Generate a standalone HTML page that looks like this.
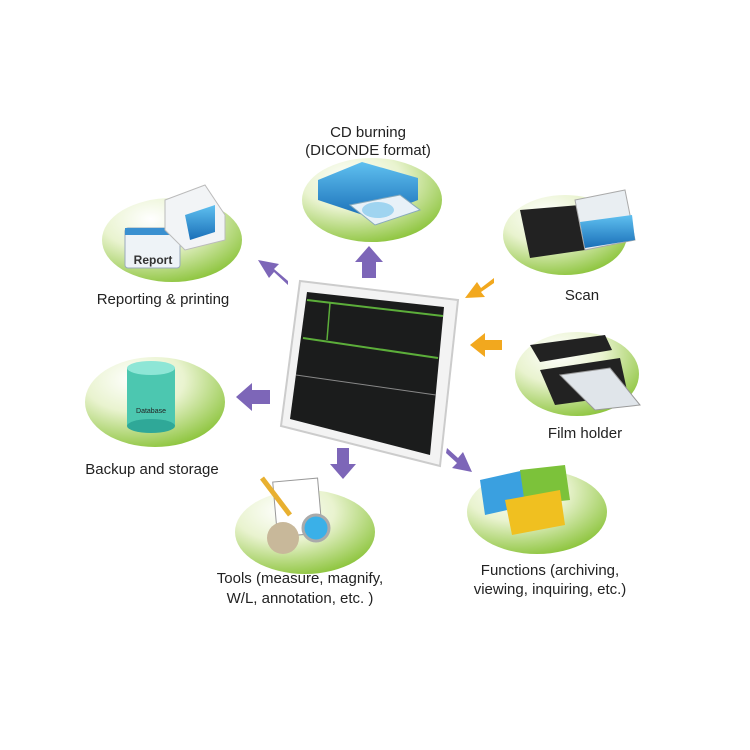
<!DOCTYPE html>
<html><head><style>
body{margin:0;background:#fff}
svg{display:block}
text{font-family:"Liberation Sans",sans-serif;font-size:15px;fill:#222;text-anchor:middle}
</style></head><body>
<svg width="750" height="750" viewBox="0 0 750 750">
<defs>
<radialGradient id="g" cx="0.35" cy="0.25" r="0.8">
<stop offset="0" stop-color="#ffffff"/><stop offset="0.45" stop-color="#e9f3cf"/><stop offset="1" stop-color="#8cc43c"/>
</radialGradient>
<linearGradient id="blue" x1="0" y1="0" x2="0" y2="1"><stop offset="0" stop-color="#5fc0f0"/><stop offset="1" stop-color="#1a6fb8"/></linearGradient>
</defs>
<ellipse cx="172" cy="240" rx="70" ry="42" fill="url(#g)"/>
<ellipse cx="372" cy="200" rx="70" ry="42" fill="url(#g)"/>
<ellipse cx="565" cy="235" rx="62" ry="40" fill="url(#g)"/>
<ellipse cx="577" cy="374" rx="62" ry="42" fill="url(#g)"/>
<ellipse cx="155" cy="402" rx="70" ry="45" fill="url(#g)"/>
<ellipse cx="305" cy="532" rx="70" ry="42" fill="url(#g)"/>
<ellipse cx="537" cy="512" rx="70" ry="42" fill="url(#g)"/>

<rect x="125" y="228" width="55" height="40" rx="3" fill="#eef3f7" stroke="#9ab" />
<rect x="125" y="228" width="55" height="7" fill="#3a90d0"/>
<text x="153" y="264" style="font-size:12px;font-weight:bold;fill:#333">Report</text>
<path d="M165 200 L205 185 L225 215 L225 240 L185 250 L165 230Z" fill="#f2f4f6" stroke="#bbb"/>
<path d="M185 215 L215 205 L215 232 L190 240Z" fill="url(#blue)"/>
<path d="M318 180 L362 162 L418 178 L418 200 L372 218 L318 200Z" fill="url(#blue)"/>
<path d="M350 205 L400 195 L420 210 L375 225Z" fill="#e8f1f8" stroke="#8ab"/>
<ellipse cx="378" cy="210" rx="16" ry="8" fill="#9fd4f0"/>
<path d="M520 210 L580 205 L585 250 L530 258Z" fill="#222"/>
<path d="M575 200 L625 190 L635 240 L585 250Z" fill="#e9eef2" stroke="#aaa"/>
<path d="M580 222 L632 215 L635 240 L585 248Z" fill="url(#blue)"/>
<path d="M530 345 L605 335 L612 350 L540 362Z" fill="#222"/>
<path d="M540 370 L620 358 L628 395 L555 405Z" fill="#222"/>
<path d="M560 375 L610 368 L640 405 L595 410Z" fill="#e0e5ea" stroke="#999"/>
<rect x="127" y="368" width="48" height="58" fill="#4cc7b0"/>
<ellipse cx="151" cy="426" rx="24" ry="7" fill="#2fa898"/>
<ellipse cx="151" cy="368" rx="24" ry="7" fill="#8ee6d6"/>
<text x="151" y="413" style="font-size:7px">Database</text>
<rect x="275" y="480" width="45" height="55" fill="#fff" stroke="#999" transform="rotate(-5 297 507)"/>
<circle cx="283" cy="538" r="16" fill="#c8b89a"/>
<circle cx="316" cy="528" r="13" fill="#3ab0e8" stroke="#aaa" stroke-width="3"/>
<line x1="262" y1="478" x2="290" y2="515" stroke="#e8b030" stroke-width="5"/>
<path d="M480 480 L525 470 L530 505 L485 515Z" fill="#3aa0e0"/>
<path d="M520 470 L565 465 L570 500 L525 505Z" fill="#7cc23a"/>
<path d="M505 500 L560 490 L565 525 L512 535Z" fill="#f0c020"/>

<path d="M300 281 L458 300 L440 466 L281 426Z" fill="#f3f3f3" stroke="#ccc" stroke-width="2"/>
<path d="M307 292 L444 307 L430 455 L290 419Z" fill="#1b1c1c"/>
<path d="M307 300 L443 316" stroke="#5cae3a" stroke-width="2"/>
<path d="M303 338 L438 358" stroke="#5cae3a" stroke-width="2"/>
<path d="M296 375 L436 395" stroke="#888" stroke-width="1"/>
<path d="M330 303 L327 340" stroke="#5cae3a" stroke-width="1.5"/>

<g fill="#7d66b8">
<path d="M362 278 L362 262 L355 262 L369 246 L383 262 L376 262 L376 278Z"/>
<path d="M288 285 L274 272 L269 278 L258 260 L279 264 L274 269 L288 281Z"/>
<path d="M270 390 L252 390 L252 383 L236 397 L252 411 L252 404 L270 404Z"/>
<path d="M337 448 L349 448 L349 464 L356 464 L343 479 L330 464 L337 464Z"/>
<path d="M447 448 L458 458 L463 452 L472 472 L452 468 L457 463 L446 453Z"/>
</g>
<g fill="#f2a81e">
<path d="M494 278 L481 288 L477 282 L465 298 L485 297 L481 292 L494 283Z"/>
<path d="M502 340 L485 340 L485 333 L470 345 L485 357 L485 350 L502 350Z"/>
</g>

<text x="368" y="137">CD burning</text>
<text x="368" y="155">(DICONDE format)</text>
<text x="163" y="304">Reporting &amp; printing</text>
<text x="582" y="300">Scan</text>
<text x="585" y="438">Film holder</text>
<text x="152" y="474">Backup and storage</text>
<text x="300" y="583">Tools (measure, magnify,</text>
<text x="300" y="603">W/L, annotation, etc. )</text>
<text x="550" y="575">Functions (archiving,</text>
<text x="550" y="594">viewing,  inquiring, etc.)</text>
</svg>
</body></html>
